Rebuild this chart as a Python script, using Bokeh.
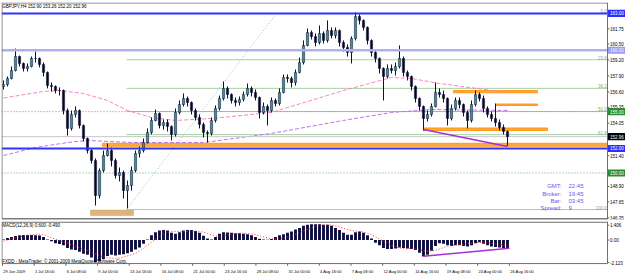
from bokeh.plotting import figure
from bokeh.layouts import column
from bokeh.models import Range1d, ColumnDataSource, Label
from bokeh.core.properties import value
from bokeh.embed import file_html
from bokeh.resources import INLINE

FONT = "Liberation Sans"

# ---------------- data (GBPJPY H4) ----------------
closes = [
    157.21, 157.70, 158.35, 159.49, 158.92, 158.52, 158.68, 159.33, 159.33, 158.84,
    158.19, 157.13, 157.05, 156.72, 156.72, 155.09, 153.63, 154.77, 155.09, 153.87,
    152.81, 151.83, 151.02, 148.16, 150.20, 151.42, 151.83, 151.02, 149.79, 150.04,
    148.57, 148.98, 150.20, 151.59, 151.83, 152.48, 153.30, 154.28, 154.85, 153.87,
    154.11, 153.79, 153.14, 154.93, 155.58, 156.07, 155.74, 155.09, 154.52, 153.95,
    153.30, 153.22, 154.28, 155.26, 156.07, 156.89, 156.40, 155.91, 155.74, 155.99,
    156.40, 156.89, 156.56, 156.15, 154.93, 155.42, 155.09, 155.91, 155.66, 156.56,
    157.78, 157.70, 157.37, 158.19, 159.00, 160.39, 161.45, 161.12, 160.63, 161.37,
    160.80, 161.61, 161.20, 161.61, 160.63, 160.23, 159.82, 160.96, 162.75, 162.43,
    161.86, 160.80, 159.82, 159.33, 158.52, 157.86, 158.52, 158.35, 158.68, 159.33,
    158.19, 157.86, 157.05, 156.07, 155.42, 154.44, 154.77, 155.42, 156.56, 156.40,
    156.07, 154.44, 155.26, 155.91, 155.58, 154.93, 154.28, 155.58, 156.40, 156.07,
    155.26, 154.77, 154.44, 154.11, 153.71, 153.38, 152.96]
highs = [
    157.54, 157.86, 158.68, 160.14, 159.57, 159.00, 158.92, 159.49, 159.90, 159.41,
    159.00, 158.27, 157.37, 157.13, 156.97, 156.80, 155.26, 155.09, 155.42, 155.17,
    153.95, 152.89, 152.00, 151.18, 150.37, 151.83, 152.40, 152.08, 151.18, 150.45,
    150.20, 149.39, 150.53, 151.83, 152.16, 152.81, 153.63, 154.52, 155.17, 154.93,
    154.36, 154.36, 153.87, 155.26, 155.91, 156.48, 156.23, 155.83, 155.26, 154.77,
    154.11, 153.46, 154.52, 155.50, 156.31, 157.46, 157.05, 156.48, 156.15, 156.23,
    156.64, 157.29, 157.05, 156.80, 156.23, 155.74, 155.58, 156.15, 156.07, 156.89,
    158.03, 158.03, 157.86, 158.43, 159.41, 160.80, 161.78, 161.61, 161.37, 162.02,
    161.53, 162.43, 161.86, 161.86, 161.69, 160.80, 160.47, 161.12, 163.08, 162.92,
    162.51, 161.94, 160.88, 159.98, 159.41, 158.60, 158.84, 158.84, 159.00, 160.39,
    159.49, 158.35, 157.94, 157.13, 156.15, 155.50, 155.09, 155.66, 157.37, 156.89,
    156.72, 156.15, 155.58, 156.15, 156.15, 155.66, 155.09, 155.91, 156.72, 156.56,
    156.31, 155.42, 155.01, 155.66, 154.36, 153.95, 153.46]
lows = [
    156.80, 157.05, 157.62, 158.27, 158.68, 158.27, 158.27, 158.60, 159.00, 158.60,
    157.86, 156.89, 156.64, 156.48, 156.31, 154.77, 153.05, 153.46, 154.52, 153.63,
    152.57, 151.59, 150.77, 147.35, 147.92, 150.04, 151.34, 150.53, 149.55, 149.31,
    147.92, 147.11, 148.57, 150.04, 151.26, 151.67, 152.40, 153.14, 154.20, 153.63,
    153.54, 153.38, 152.65, 152.97, 154.77, 155.42, 155.42, 154.77, 154.28, 153.63,
    152.89, 152.48, 153.05, 154.11, 155.09, 155.91, 156.07, 155.66, 155.42, 155.50,
    155.83, 156.23, 156.23, 155.91, 154.44, 154.77, 153.87, 154.93, 155.42, 155.50,
    156.48, 157.37, 156.97, 157.13, 158.11, 158.84, 160.31, 160.88, 160.31, 160.47,
    160.55, 160.63, 160.96, 160.96, 160.31, 159.90, 159.49, 158.92, 160.80, 162.10,
    161.61, 160.47, 159.49, 159.00, 158.11, 155.91, 157.70, 158.11, 157.94, 158.52,
    157.86, 157.54, 156.72, 155.74, 155.09, 153.46, 154.20, 154.60, 155.34, 156.15,
    155.74, 153.87, 154.28, 155.09, 155.26, 154.60, 153.63, 154.11, 155.42, 155.83,
    154.93, 154.52, 154.20, 153.79, 153.46, 153.14, 152.20]
first_open = 157.05

# moving averages (sampled along the curves)
ma_pink_idx = [0, 10, 14, 20, 26, 31, 37, 43, 52, 67, 85, 97, 102, 109, 126]
ma_pink = [156.11, 156.64, 156.72, 156.48, 155.91, 155.09, 154.52, 154.28, 154.44,
           154.93, 156.72, 157.78, 157.70, 157.29, 156.56]
ma_purple_idx = [0, 8, 16, 21, 32, 50, 67, 85, 97, 107, 126]
ma_purple = [151.42, 152.08, 152.48, 152.65, 152.48, 152.48, 153.22, 154.28, 154.93,
             155.17, 155.09]

# MACD(12,26,9)
macd_hist = [
    0.05, 0.20, 0.30, 0.38, 0.45, 0.48, 0.48, 0.48, 0.46, 0.42,
    0.30, 0.05, -0.12, -0.30, -0.38, -0.50, -0.75, -0.90, -0.95, -1.10,
    -1.30, -1.40, -1.65, -2.10, -2.00, -1.80, -1.50, -1.40, -1.45, -1.40,
    -1.35, -1.25, -1.10, -0.90, -0.70, -0.35, 0.05, 0.45, 0.75, 0.90,
    0.95, 0.90, 0.70, 0.60, 0.75, 0.90, 0.95, 0.95, 0.85, 0.70,
    0.40, 0.15, 0.05, 0.30, 0.60, 0.75, 0.72, 0.68, 0.65, 0.65,
    0.60, 0.55, 0.45, 0.30, 0.12, 0.05, 0.02, 0.10, 0.30, 0.45,
    0.55, 0.70, 0.80, 1.00, 1.15, 1.35, 1.45, 1.50, 1.50, 1.50,
    1.45, 1.45, 1.35, 1.15, 0.95, 0.70, 0.50, 0.50, 0.75, 0.80,
    0.70, 0.45, 0.15, -0.25, -0.50, -0.75, -0.85, -0.85, -0.80, -0.70,
    -0.75, -0.80, -0.85, -0.95, -1.20, -1.55, -1.40, -1.00, -0.55, -0.30,
    -0.35, -0.50, -0.55, -0.50, -0.50, -0.55, -0.60, -0.50, -0.30, -0.20,
    -0.35, -0.50, -0.60, -0.65, -0.70, -0.74, -0.78]
macd_signal = [
    -0.10, 0.00, 0.10, 0.20, 0.30, 0.38, 0.45, 0.50, 0.55, 0.55,
    0.50, 0.38, 0.22, 0.10, -0.05, -0.20, -0.30, -0.45, -0.60, -0.75,
    -0.88, -1.00, -1.15, -1.30, -1.45, -1.60, -1.68, -1.72, -1.72, -1.68,
    -1.60, -1.50, -1.40, -1.25, -1.05, -0.80, -0.50, -0.20, 0.10, 0.35,
    0.55, 0.70, 0.80, 0.82, 0.80, 0.80, 0.82, 0.85, 0.85, 0.82,
    0.75, 0.62, 0.50, 0.40, 0.35, 0.40, 0.48, 0.55, 0.60, 0.65,
    0.65, 0.62, 0.58, 0.50, 0.40, 0.30, 0.20, 0.12, 0.10, 0.12,
    0.20, 0.30, 0.42, 0.55, 0.70, 0.85, 1.00, 1.15, 1.28, 1.38,
    1.42, 1.45, 1.42, 1.35, 1.25, 1.12, 1.00, 0.90, 0.85, 0.82,
    0.75, 0.65, 0.50, 0.30, 0.10, -0.10, -0.30, -0.50, -0.65, -0.75,
    -0.80, -0.82, -0.82, -0.85, -0.90, -1.00, -1.05, -1.02, -0.95, -0.85,
    -0.72, -0.60, -0.50, -0.45, -0.42, -0.40, -0.35, -0.30, -0.25, -0.20,
    -0.20, -0.25, -0.30, -0.35, -0.40, -0.45, -0.49]

# horizontal lines drawn on the chart
blue_levels = [163.00, 152.00]
lavender_level = 160.00
dotted_levels = [155.00, 150.00]
bid_price = 152.96

# fibonacci retracement (anchor bars / prices)
fib_idx = [30.75, 68.25]
fib_price = [147.02, 163.00]
fib_levels = [0.0, 23.6, 38.2, 50.0, 61.8, 100.0]
fib_texts = ["0.0", "23.6", "38.2", "50.0", "61.8", "100.0"]

# rectangles (zones)
zone_left = [24.75, 112.5, 123.0, 105.0]
zone_right = [151.0, 133.5, 133.5, 136.0]
zone_bottom = [152.18, 156.53, 155.50, 153.46]
zone_top = [152.42, 156.72, 155.62, 153.67]
tan_left, tan_right, tan_bottom, tan_top = [21.75], [32.5], [146.53], [146.98]

# trend lines
trend_idx = [105.0, 126.0]
trend_price = [153.54, 152.16]
macd_trend_idx = [105.0, 126.5]
macd_trend_val = [-1.53, -0.77]

# axis ticks / labels
price_ticks = [161.75, 160.50, 159.20, 157.90, 156.60, 155.35, 154.05, 151.40, 148.90, 147.65, 146.35]
price_tick_labels = ["161.75", "160.50", "159.20", "157.90", "156.60", "155.35", "154.05",
                     "151.40", "148.90", "147.65", "146.35"]
box_prices = [163.00, 160.00, 155.00, 152.96, 152.00, 150.00]
box_texts = ["163.00", "160.00", "155.00", "152.96", "152.00", "150.00"]
box_colors = ["#2f2fff", "#9a9aee", "#2e8b2e", "#000000", "#2f2fff", "#2e8b2e"]
macd_ticks = [1.406, 0.0, -2.123]
macd_tick_labels = ["1.406", "0.00", "-2.123"]
date_bars = [0, 16, 32, 48, 64, 80, 96, 112, 128, 144, 160, 176, 192, 208, 224, 240, 256]
date_labels = ["29 Jun 2009", "1 Jul 16:00", "6 Jul 08:00", "9 Jul 00:00", "13 Jul 16:00",
               "16 Jul 08:00", "21 Jul 00:00", "23 Jul 16:00", "28 Jul 08:00", "31 Jul 00:00",
               "4 Aug 16:00", "7 Aug 08:00", "12 Aug 00:00", "14 Aug 16:00", "19 Aug 08:00",
               "24 Aug 00:00", "26 Aug 16:00"]

title_text = "GBPJPY,H4  152.90 153.26 152.20 152.96"
macd_text = "MACD(12,26,9) 0.600 -0.490"
copyright_text = "FXDD - MetaTrader, \u00a9 2001-2009 MetaQuotes Software Corp."
info_names = ["GMT:", "Broker:", "Bar:", "Spread:"]
info_values = ["22:45", "19:45", "03:45", "9"]
info_prices = [148.96, 148.30, 147.70, 147.11]

# ---------------- build ----------------
n = len(closes)
idx = list(range(n))
opens = [first_open] + closes[:-1]
tops = [max(o, c) for o, c in zip(opens, closes)]
bots = [min(o, c) for o, c in zip(opens, closes)]
cols = ["#2f9595" if c >= o else "#05052a" for o, c in zip(opens, closes)]
src = ColumnDataSource(dict(x=idx, h=highs, l=lows, top=tops, bottom=bots, color=cols))

XR0, XR1 = -0.5, 155.5          # 4 px per candle, frame spans whole width
XE = 151.0                      # right edge of the chart area (price scale beyond)
XL = -0.375                     # left border
xr = Range1d(XR0, XR1)
PY0, PY1 = 146.21, 163.89
MY0, MY1 = -3.258, 1.756
MB = -2.224                     # bottom edge of MACD window
MT = 1.70                       # top edge of MACD window

p1 = figure(frame_width=624, frame_height=217, x_range=xr, y_range=Range1d(PY0, PY1),
            x_axis_location=None, y_axis_location=None, output_backend="svg",
            toolbar_location=None, min_border_left=1, min_border_right=0,
            min_border_top=2, min_border_bottom=1, title=None)
p2 = figure(frame_width=624, frame_height=53, x_range=xr, y_range=Range1d(MY0, MY1),
            x_axis_location=None, y_axis_location=None, output_backend="svg",
            toolbar_location=None, min_border_left=1, min_border_right=0,
            min_border_top=1, min_border_bottom=0, title=None)
for p in (p1, p2):
    p.grid.visible = False
    p.outline_line_color = None
    p.background_fill_color = "white"
    p.border_fill_color = "white"

def hline(p, y, color, width=1, dash="solid", x0=XR0, x1=XE):
    p.segment(x0=[x0], y0=[y], x1=[x1], y1=[y], line_color=color, line_width=width, line_dash=dash)

# zones
p1.quad(left=zone_left, right=zone_right, bottom=zone_bottom, top=zone_top,
        fill_color="#ffab3a", line_color="#ff8c00", line_width=0.8)
p1.quad(left=tan_left, right=tan_right, bottom=tan_bottom, top=tan_top,
        fill_color="#ddb47e", line_color="#d0a060", line_width=0.5)

# fibonacci
hi, lo = fib_price[1], fib_price[0]
fib_vals = [hi - lv / 100.0 * (hi - lo) for lv in fib_levels]
p1.segment(x0=[fib_idx[0]] * len(fib_vals), y0=fib_vals, x1=[XE] * len(fib_vals),
           y1=fib_vals, line_color="#a6cfa6", line_width=1)
p1.line(fib_idx, fib_price, line_color="#8cc4c4", line_dash="1 2", line_width=1)
p1.text(x=[XE - 0.2] * len(fib_vals), y=fib_vals, text=fib_texts, text_align="right",
        text_baseline="bottom", text_font=value(FONT), text_font_size="4.5px", text_color="#7fb07f")

# moving averages
p1.line(ma_pink_idx, ma_pink, line_color="#ff80c4", line_dash="4 2", line_width=1)
p1.line(ma_purple_idx, ma_purple, line_color="#c070f0", line_dash="4 2", line_width=1)

# horizontal lines behind candles
hline(p1, bid_price, "#c8c8c8")
for lv in dotted_levels:
    hline(p1, lv, "#66aa66", 1, "1 2")

# candles
p1.segment(x0="x", y0="h", x1="x", y1="l", source=src, line_color="#101030", line_width=1)
p1.vbar(x="x", top="top", bottom="bottom", width=0.55, source=src,
        fill_color="color", line_color="#101030", line_width=0.5)

for lv in blue_levels:
    hline(p1, lv, "#3333ff", 2)
hline(p1, lavender_level, "#b0b0f0", 2.5)

p1.line(trend_idx, trend_price, line_color="#a530d8", line_width=1.5)

# chart border
hline(p1, PY1 - 0.04, "#707070", 1, x0=XL, x1=XE)
hline(p1, PY0 + 0.05, "#505050", 1.5, x0=XL, x1=XE)
p1.segment(x0=[XL, XE], y0=[PY0, PY0], x1=[XL, XE], y1=[PY1, PY1], line_color="#707070", line_width=1)

# price scale
p1.segment(x0=[XE] * len(price_ticks), y0=price_ticks, x1=[XE + 0.45] * len(price_ticks),
           y1=price_ticks, line_color="#606060", line_width=1)
p1.text(x=[XE + 0.6] * len(price_ticks), y=price_ticks, text=price_tick_labels,
        text_align="left", text_baseline="middle", text_font=value(FONT),
        text_font_size="4.5px", text_color="#000000")
box_h = 0.29
p1.quad(left=[XE + 0.1] * len(box_prices), right=[XR1] * len(box_prices),
        bottom=[b - box_h for b in box_prices], top=[b + box_h for b in box_prices],
        fill_color=box_colors, line_color=None)
p1.text(x=[XE + 0.6] * len(box_prices), y=box_prices, text=box_texts,
        text_align="left", text_baseline="middle", text_font=value(FONT),
        text_font_size="4.5px", text_color="#ffffff")

p1.text(x=[-0.3], y=[163.60], text=[title_text], text_baseline="middle",
        text_font=value(FONT), text_font_size="4.5px", text_color="#000000")

p1.text(x=[139.5] * 4, y=info_prices, text=info_names, text_align="right", text_baseline="middle",
        text_font=value(FONT), text_font_size="6px", text_color="#5c5cf0")
p1.text(x=[141.25] * 4, y=info_prices, text=info_values, text_align="left", text_baseline="middle",
        text_font=value(FONT), text_font_size="6px", text_color="#5c5cf0")

# MACD panel
p2.vbar(x=idx, top=macd_hist, bottom=0, width=0.72, fill_color="#0b0b3e", line_color=None)
p2.line(idx, macd_signal, line_color="#ff3030", line_dash="1 2", line_width=1)
p2.line(macd_trend_idx, macd_trend_val, line_color="#a530d8", line_width=1.5)
hline(p2, MY1 - 0.06, "#505050", 1, x0=XL, x1=XE)
hline(p2, MB, "#707070", 1, x0=XL, x1=XE)
p2.segment(x0=[XL, XE], y0=[MB, MB], x1=[XL, XE], y1=[MY1, MY1], line_color="#707070", line_width=1)
p2.segment(x0=[XE] * 3, y0=macd_ticks, x1=[XE + 0.45] * 3, y1=macd_ticks,
           line_color="#606060", line_width=1)
p2.text(x=[XE + 0.6] * 3, y=macd_ticks, text=macd_tick_labels, text_align="left",
        text_baseline="middle", text_font=value(FONT), text_font_size="4.5px", text_color="#000000")
p2.text(x=[-0.3], y=[1.38], text=[macd_text], text_baseline="middle",
        text_font=value(FONT), text_font_size="4.5px", text_color="#000000")
p2.text(x=[-0.3], y=[-2.05], text=[copyright_text], text_baseline="middle",
        text_font=value(FONT), text_font_size="4.5px", text_color="#000000")

# time scale (bar index -> candle index: 2 H4 bars per drawn candle, 1.98 px per bar)
date_x = [(b * 1.98 - 1.0) / 4.0 for b in date_bars]
p2.segment(x0=date_x, y0=[MB] * len(date_x), x1=date_x, y1=[MB - 0.2] * len(date_x),
           line_color="#606060", line_width=1)
p2.text(x=[d + 0.2 for d in date_x], y=[-2.93] * len(date_x), text=date_labels, text_align="left",
        text_baseline="middle", text_font=value(FONT), text_font_size="4px", text_color="#000000")

layout = column(p1, p2, spacing=0)
open("out.html", "w").write(file_html(layout, INLINE))
